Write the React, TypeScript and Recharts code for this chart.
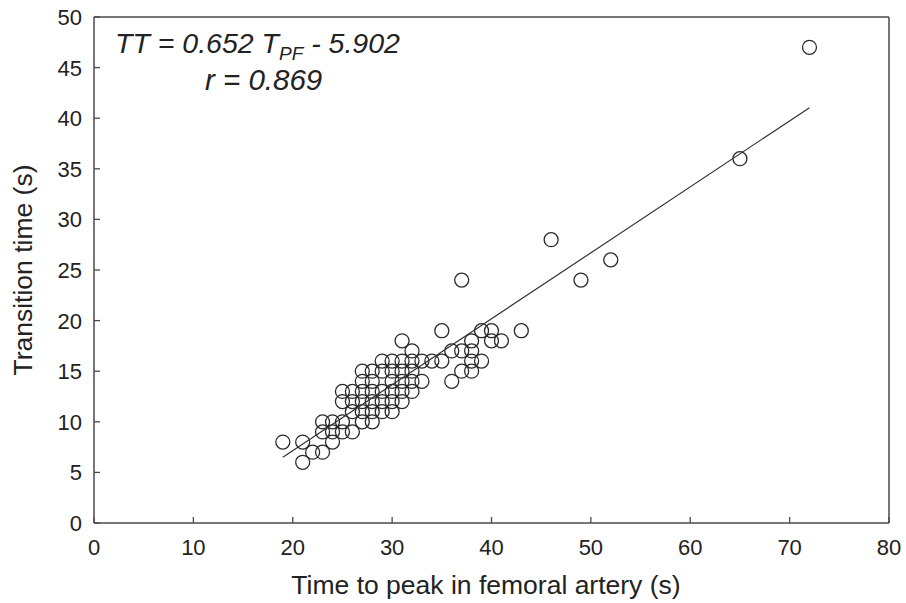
import { ScatterChart, Scatter, XAxis, YAxis, ReferenceLine, Customized } from "recharts";

// time to peak in femoral artery (s), one entry per subject
const tpfValues = [
    19, 21, 21, 22, 23, 23, 23, 24, 24, 24,
    25, 25, 25, 25, 26, 26, 26, 26,
    27, 27, 27, 27, 27, 27, 28, 28, 28, 28, 28, 28,
    29, 29, 29, 29, 29, 30, 30, 30, 30, 30, 30,
    31, 31, 31, 31, 31, 31, 32, 32, 32, 32, 32,
    33, 33, 34, 35, 35, 36, 36, 37, 37, 37,
    38, 38, 38, 38, 39, 39, 40, 40, 41, 43,
    46, 49, 52, 65, 72,
];

// transition time (s), same order as tpfValues
const ttValues = [
    8, 8, 6, 7, 10, 9, 7, 10, 9, 8,
    13, 12, 10, 9, 13, 12, 11, 9,
    15, 14, 13, 12, 11, 10, 15, 14, 13, 12, 11, 10,
    16, 15, 13, 12, 11, 16, 15, 14, 13, 12, 11,
    18, 16, 15, 14, 13, 12, 17, 16, 15, 14, 13,
    16, 14, 16, 19, 16, 17, 14, 24, 17, 15,
    18, 17, 16, 15, 19, 16, 19, 18, 18, 19,
    28, 24, 26, 36, 47,
];

// regression: TT = 0.652 * TPF - 5.902, drawn over the observed range
const slope = 0.652;
const intercept = -5.902;
const fitRange = [19, 72];

const xTicks = [0, 10, 20, 30, 40, 50, 60, 70, 80];
const yTicks = [0, 5, 10, 15, 20, 25, 30, 35, 40, 45, 50];

const points = tpfValues.map((x, i) => ({ x, y: ttValues[i] }));
const fitLine = fitRange.map((x) => ({ x, y: slope * x + intercept }));

const FONT = "'Liberation Sans', Arial, Helvetica, sans-serif";
const AXIS = "#4a4a4a";
const INK = "#222";

function XTick({ x, y, payload }: any) {
    return (
        <g>
            <line x1={x} y1={y} x2={x} y2={y - 6} stroke={AXIS} strokeWidth={1.3} />
            <text x={x} y={y + 32} textAnchor="middle" fontSize={22} fontFamily={FONT} fill={INK}>
                {payload.value}
            </text>
        </g>
    );
}

function YTick({ x, y, payload }: any) {
    return (
        <g>
            <line x1={x} y1={y} x2={x + 6} y2={y} stroke={AXIS} strokeWidth={1.3} />
            <text x={x - 12} y={y + 8} textAnchor="end" fontSize={22} fontFamily={FONT} fill={INK}>
                {payload.value}
            </text>
        </g>
    );
}

function Labels() {
    return (
        <g fontFamily={FONT} fill={INK}>
            <text x={486} y={594} textAnchor="middle" fontSize={26.5}>
                Time to peak in femoral artery (s)
            </text>
            <text x={32} y={270} textAnchor="middle" fontSize={26.5} transform="rotate(-90 32 270)">
                Transition time (s)
            </text>
            <text x={115} y={53} fontSize={28.5} fontStyle="italic">
                TT = 0.652 T
                <tspan fontSize={19} dy={7}>PF</tspan>
                <tspan dy={-7}> - 5.902</tspan>
            </text>
            <text x={205} y={90} fontSize={29.5} fontStyle="italic">
                r = 0.869
            </text>
        </g>
    );
}

const Circle = (p: any) => (
    <circle cx={p.cx} cy={p.cy} r={7} fill="none" stroke="#2a2a2a" strokeWidth={1.3} />
);

export default function App() {
    return (
        <div style={{ position: "absolute", top: 0, left: 0, width: 906, height: 603, overflow: "hidden" }}>
            <ScatterChart width={906} height={603} margin={{ top: 17, right: 17, left: 0, bottom: 0 }}>
                <XAxis
                    type="number"
                    dataKey="x"
                    domain={[0, 80]}
                    ticks={xTicks}
                    height={80}
                    tickSize={0}
                    tickMargin={0}
                    tickLine={false}
                    tick={<XTick />}
                    stroke={AXIS}
                    strokeWidth={1.5}
                    allowDataOverflow
                />
                <YAxis
                    type="number"
                    dataKey="y"
                    domain={[0, 50]}
                    ticks={yTicks}
                    width={94}
                    tickSize={0}
                    tickMargin={0}
                    tickLine={false}
                    tick={<YTick />}
                    stroke={AXIS}
                    strokeWidth={1.5}
                    allowDataOverflow
                />
                <ReferenceLine y={50} stroke={AXIS} strokeWidth={1.5} />
                <ReferenceLine x={80} stroke={AXIS} strokeWidth={1.5} />
                <Scatter data={points} shape={Circle} isAnimationActive={false} />
                <Scatter
                    data={fitLine}
                    line={{ stroke: "#333", strokeWidth: 1.2 }}
                    shape={() => <g />}
                    isAnimationActive={false}
                />
                <Customized component={Labels} />
            </ScatterChart>
        </div>
    );
}
